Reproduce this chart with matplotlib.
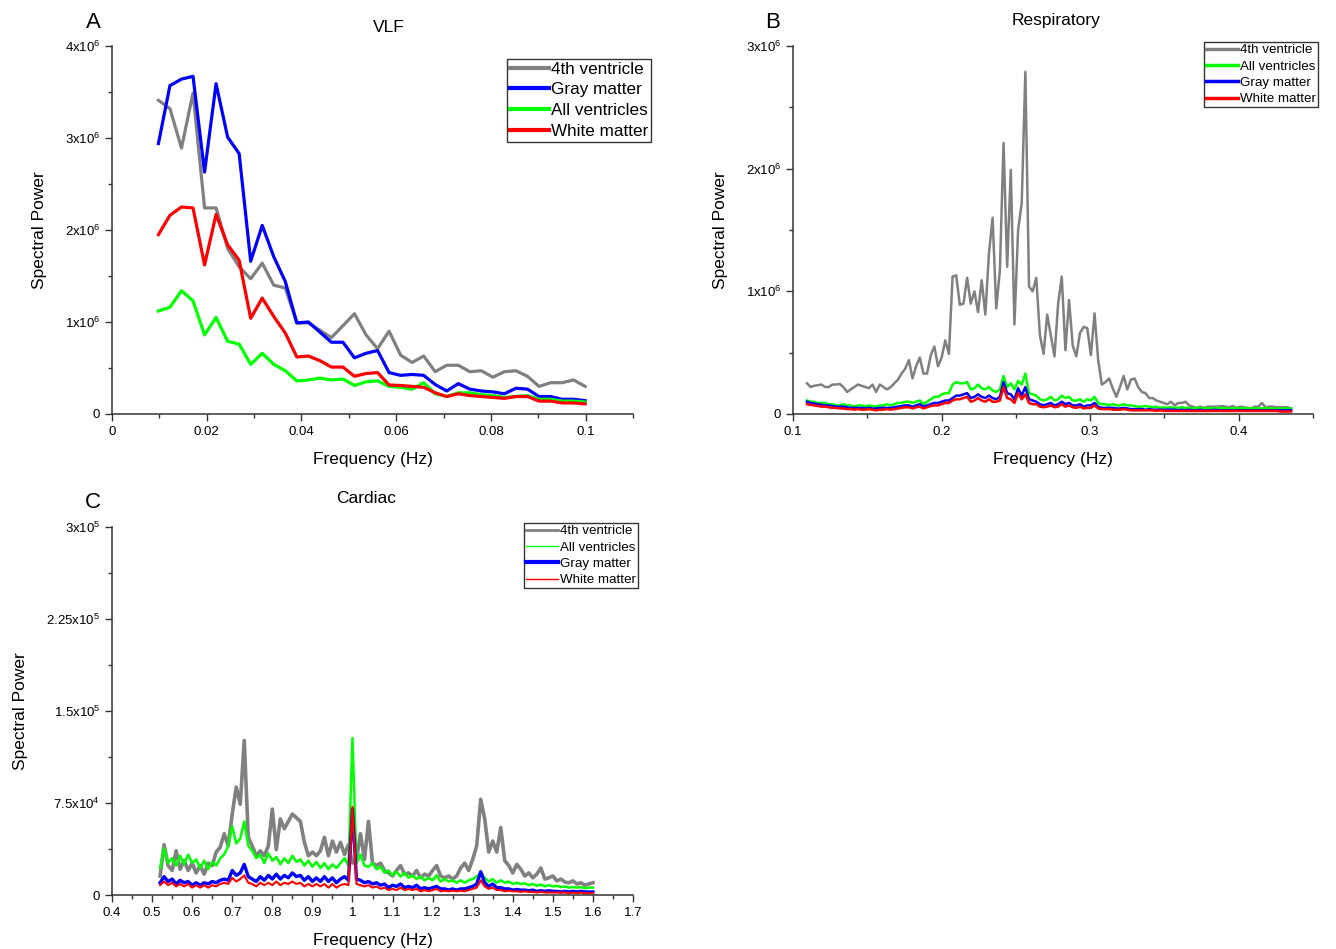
import numpy as np
import matplotlib
matplotlib.use("Agg")
import matplotlib.pyplot as plt
from matplotlib.ticker import MultipleLocator, FuncFormatter

plt.rcParams['font.family'] = ['Liberation Sans', 'DejaVu Sans']
plt.rcParams['mathtext.fontset'] = 'custom'
plt.rcParams['mathtext.rm'] = 'Liberation Sans'
plt.rcParams['mathtext.it'] = 'Liberation Sans:italic'

# ---------------- data ----------------
# A: VLF  (power in units of 1e6)
freq_a = np.linspace(0.0098, 0.0999, 38)
vlf_4th = [3.41, 3.32, 2.89, 3.49, 2.24, 2.24, 1.80, 1.60, 1.47, 1.64,
           1.40, 1.37, 0.99, 0.99, 0.91, 0.83, 0.96, 1.09, 0.86, 0.71,
           0.90, 0.64, 0.56, 0.63, 0.46, 0.53, 0.53, 0.46, 0.47, 0.40,
           0.46, 0.47, 0.41, 0.30, 0.34, 0.34, 0.37, 0.30]
vlf_gray = [2.94, 3.57, 3.64, 3.67, 2.63, 3.59, 3.01, 2.83, 1.66, 2.05,
            1.71, 1.44, 0.99, 1.00, 0.89, 0.78, 0.78, 0.61, 0.66, 0.69,
            0.45, 0.42, 0.43, 0.42, 0.32, 0.25, 0.33, 0.27, 0.25, 0.24,
            0.22, 0.28, 0.27, 0.19, 0.19, 0.16, 0.16, 0.145]
vlf_all = [1.12, 1.16, 1.34, 1.23, 0.86, 1.05, 0.79, 0.76, 0.54, 0.66,
           0.54, 0.47, 0.36, 0.37, 0.39, 0.37, 0.38, 0.31, 0.35, 0.36,
           0.30, 0.29, 0.27, 0.34, 0.22, 0.19, 0.23, 0.23, 0.21, 0.20,
           0.18, 0.19, 0.20, 0.16, 0.16, 0.14, 0.14, 0.13]
vlf_white = [1.95, 2.16, 2.25, 2.24, 1.62, 2.17, 1.84, 1.67, 1.04, 1.26,
             1.06, 0.88, 0.62, 0.63, 0.58, 0.51, 0.51, 0.41, 0.44, 0.45,
             0.315, 0.31, 0.30, 0.29, 0.23, 0.19, 0.22, 0.20, 0.19, 0.18,
             0.17, 0.19, 0.19, 0.14, 0.14, 0.12, 0.12, 0.11]

# B: Respiratory (power in units of 1e6)
freq_b = 0.1094 + 0.00245 * np.arange(134)
resp_4th = [0.25, 0.22, 0.23, 0.235, 0.24, 0.22, 0.22, 0.24, 0.24, 0.245,
            0.22, 0.18, 0.20, 0.22, 0.24, 0.23, 0.22, 0.21, 0.24, 0.18,
            0.24, 0.22, 0.20, 0.22, 0.25, 0.28, 0.33, 0.37, 0.44, 0.29,
            0.39, 0.46, 0.33, 0.33, 0.48, 0.55, 0.39, 0.46, 0.60, 0.49,
            1.12, 1.13, 0.89, 0.90, 1.11, 0.90, 1.00, 0.83, 1.09, 0.81,
            1.31, 1.60, 0.86, 1.17, 2.21, 1.20, 1.99, 0.73, 1.50, 1.72,
            2.79, 1.04, 1.00, 1.11, 0.64, 0.49, 0.81, 0.64, 0.47, 0.90,
            1.12, 0.52, 0.93, 0.56, 0.47, 0.66, 0.71, 0.70, 0.48, 0.82,
            0.44, 0.24, 0.26, 0.29, 0.21, 0.14, 0.22, 0.31, 0.20, 0.28,
            0.29, 0.22, 0.18, 0.17, 0.13, 0.13, 0.11, 0.10, 0.09, 0.08,
            0.10, 0.07, 0.09, 0.09, 0.10, 0.07, 0.06, 0.05, 0.06, 0.05,
            0.06, 0.06, 0.06, 0.06, 0.065, 0.06, 0.055, 0.065, 0.05, 0.06,
            0.055, 0.05, 0.045, 0.06, 0.06, 0.09, 0.055, 0.06, 0.06, 0.055,
            0.055, 0.055, 0.055, 0.045]
resp_all = [0.11, 0.10, 0.10, 0.09, 0.09, 0.09, 0.08, 0.08, 0.07, 0.07,
            0.08, 0.07, 0.07, 0.06, 0.07, 0.07, 0.06, 0.07, 0.065, 0.06,
            0.07, 0.07, 0.08, 0.07, 0.08, 0.09, 0.09, 0.10, 0.10, 0.09,
            0.10, 0.11, 0.08, 0.10, 0.12, 0.14, 0.14, 0.16, 0.17, 0.17,
            0.24, 0.26, 0.25, 0.25, 0.26, 0.20, 0.21, 0.24, 0.21, 0.20,
            0.22, 0.19, 0.18, 0.20, 0.31, 0.22, 0.25, 0.20, 0.27, 0.24,
            0.33, 0.17, 0.16, 0.15, 0.12, 0.11, 0.12, 0.14, 0.11, 0.12,
            0.15, 0.13, 0.14, 0.11, 0.11, 0.12, 0.10, 0.12, 0.11, 0.14,
            0.09, 0.08, 0.08, 0.07, 0.08, 0.07, 0.07, 0.08, 0.07, 0.07,
            0.065, 0.06, 0.06, 0.065, 0.06, 0.055, 0.06, 0.05, 0.055, 0.05,
            0.055, 0.05, 0.05, 0.055, 0.05, 0.05, 0.045, 0.05, 0.05, 0.045,
            0.05, 0.045, 0.05, 0.05, 0.045, 0.05, 0.045, 0.045, 0.05, 0.045,
            0.05, 0.045, 0.045, 0.05, 0.045, 0.045, 0.05, 0.045, 0.045, 0.045,
            0.045, 0.045, 0.045, 0.045]
resp_gray = [0.10, 0.09, 0.085, 0.08, 0.075, 0.07, 0.07, 0.065, 0.06, 0.06,
             0.06, 0.055, 0.05, 0.05, 0.05, 0.05, 0.045, 0.05, 0.045, 0.045,
             0.05, 0.05, 0.05, 0.05, 0.055, 0.06, 0.065, 0.07, 0.07, 0.06,
             0.07, 0.08, 0.06, 0.07, 0.08, 0.09, 0.09, 0.10, 0.11, 0.11,
             0.13, 0.15, 0.15, 0.16, 0.17, 0.13, 0.14, 0.16, 0.14, 0.13,
             0.15, 0.13, 0.12, 0.14, 0.26, 0.17, 0.16, 0.12, 0.21, 0.15,
             0.22, 0.12, 0.11, 0.10, 0.08, 0.07, 0.08, 0.09, 0.07, 0.08,
             0.10, 0.08, 0.09, 0.07, 0.07, 0.08, 0.06, 0.07, 0.07, 0.09,
             0.06, 0.05, 0.05, 0.05, 0.05, 0.045, 0.045, 0.05, 0.045, 0.04,
             0.04, 0.04, 0.04, 0.035, 0.04, 0.035, 0.035, 0.035, 0.035, 0.035,
             0.035, 0.035, 0.03, 0.035, 0.03, 0.035, 0.03, 0.03, 0.035, 0.03,
             0.03, 0.03, 0.035, 0.03, 0.03, 0.03, 0.03, 0.03, 0.03, 0.03,
             0.03, 0.03, 0.03, 0.03, 0.03, 0.03, 0.03, 0.03, 0.03, 0.03,
             0.03, 0.03, 0.03, 0.03]
resp_white = [0.08, 0.075, 0.07, 0.065, 0.06, 0.06, 0.055, 0.05, 0.05, 0.045,
              0.045, 0.04, 0.04, 0.035, 0.04, 0.035, 0.035, 0.04, 0.035, 0.03,
              0.035, 0.035, 0.04, 0.035, 0.04, 0.045, 0.05, 0.055, 0.055, 0.045,
              0.055, 0.06, 0.045, 0.055, 0.065, 0.07, 0.07, 0.08, 0.09, 0.09,
              0.11, 0.12, 0.12, 0.13, 0.14, 0.10, 0.11, 0.13, 0.11, 0.10,
              0.12, 0.10, 0.10, 0.11, 0.22, 0.13, 0.12, 0.09, 0.17, 0.12,
              0.16, 0.09, 0.08, 0.08, 0.06, 0.055, 0.06, 0.07, 0.055, 0.06,
              0.08, 0.06, 0.07, 0.055, 0.05, 0.06, 0.045, 0.05, 0.05, 0.07,
              0.045, 0.04, 0.04, 0.04, 0.035, 0.035, 0.035, 0.04, 0.035, 0.03,
              0.03, 0.03, 0.03, 0.03, 0.03, 0.03, 0.025, 0.03, 0.025, 0.025,
              0.025, 0.025, 0.025, 0.025, 0.025, 0.025, 0.025, 0.025, 0.025, 0.025,
              0.025, 0.025, 0.025, 0.025, 0.025, 0.025, 0.025, 0.025, 0.025, 0.025,
              0.025, 0.025, 0.025, 0.025, 0.025, 0.025, 0.025, 0.025, 0.025, 0.025,
              0.02, 0.02, 0.02, 0.02]

# C: Cardiac (power in units of 1e4)
freq_c = np.round(np.arange(0.52, 1.605, 0.01), 2)
card_4th = [1.55, 4.1, 2.4, 2.0, 3.6, 2.1, 2.8, 2.0, 2.6, 1.8,
            2.4, 1.7, 2.6, 2.4, 3.5, 3.9, 5.0, 4.0, 6.6, 8.8,
            7.4, 12.6, 4.7, 4.0, 3.2, 3.6, 3.2, 4.0, 7.0, 3.7,
            6.2, 5.4, 6.0, 6.6, 6.3, 6.0, 4.3, 3.2, 3.5, 3.2,
            3.6, 4.7, 3.2, 4.4, 3.5, 4.3, 3.3, 4.1, 2.6,
            2.9, 5.0, 2.9, 6.0, 2.6, 2.4, 2.6, 2.0, 1.8, 1.55,
            2.0, 2.4, 1.7, 1.8, 1.55, 2.0, 1.4, 1.7, 1.55, 2.0,
            2.4, 1.55, 1.4, 1.55, 1.3, 1.55, 2.2, 2.6, 2.0, 2.9,
            4.0, 7.8, 6.2, 3.5, 4.4, 3.5, 5.5, 2.8, 2.4, 1.8,
            2.5, 2.1, 1.55, 1.8, 1.4, 1.7, 2.2, 1.3, 1.4, 1.55,
            1.15, 1.3, 1.05, 1.0, 1.15, 0.9, 1.0, 0.8, 0.9, 1.0]
card_all = [2.2, 3.8, 2.6, 3.0, 2.4, 3.2, 2.5, 3.3, 2.6, 2.9,
            2.2, 2.8, 2.1, 2.7, 2.4, 3.0, 3.3, 4.0, 5.6, 4.2,
            4.6, 6.0, 4.0, 3.6, 3.0, 3.3, 2.6, 3.4, 2.8, 3.1,
            2.5, 3.0, 2.6, 3.2, 2.7, 2.9, 2.4, 2.8, 2.3, 2.7,
            2.2, 2.6, 2.1, 2.5, 2.2, 2.6, 3.0, 2.4, 12.8,
            2.6, 3.3, 2.4, 2.3, 2.6, 2.1, 2.3, 1.8, 2.0, 1.6,
            1.9, 1.5, 1.8, 1.4, 1.6, 1.3, 1.5, 1.2, 1.4, 1.2,
            1.6, 1.1, 1.3, 1.1, 1.2, 1.0, 1.2, 1.0, 1.2, 1.3,
            1.5, 1.8, 1.4, 1.1, 1.3, 1.0, 1.2, 1.0, 1.1, 0.9,
            1.0, 0.9, 0.95, 0.8, 0.9, 0.75, 0.85, 0.7, 0.8, 0.7,
            0.75, 0.65, 0.7, 0.6, 0.65, 0.6, 0.65, 0.55, 0.6, 0.6]
card_gray = [1.0, 1.5, 1.1, 1.3, 0.9, 1.2, 1.0, 1.1, 0.8, 1.0,
             0.8, 1.0, 0.9, 1.1, 1.0, 1.2, 1.3, 1.2, 2.0, 1.6,
             1.8, 2.5, 1.5, 1.3, 1.1, 1.5, 1.2, 1.6, 1.3, 1.7,
             1.3, 1.6, 1.4, 1.8, 1.5, 1.6, 1.2, 1.5, 1.1, 1.4,
             1.1, 1.5, 1.1, 1.4, 1.0, 1.3, 1.5, 1.2, 7.0,
             1.3, 1.2, 1.0, 1.1, 0.9, 1.0, 0.8, 0.9, 0.6, 0.8,
             0.7, 0.9, 0.6, 0.7, 0.6, 0.8, 0.5, 0.6, 0.5, 0.6,
             0.7, 0.5, 0.5, 0.4, 0.5, 0.4, 0.5, 0.5, 0.6, 0.7,
             0.9, 1.9, 1.0, 0.7, 0.9, 0.6, 0.6, 0.5, 0.5, 0.4,
             0.45, 0.4, 0.4, 0.35, 0.4, 0.3, 0.35, 0.3, 0.35, 0.3,
             0.3, 0.25, 0.3, 0.25, 0.3, 0.25, 0.3, 0.25, 0.25, 0.25]
card_white = [0.8, 1.1, 0.8, 1.0, 0.7, 0.9, 0.7, 0.9, 0.6, 0.8,
              0.6, 0.8, 0.6, 0.8, 0.7, 0.9, 1.0, 0.9, 1.4, 1.1,
              1.3, 1.6, 1.0, 0.9, 0.7, 1.0, 0.8, 1.0, 0.8, 1.1,
              0.8, 1.0, 0.9, 1.1, 0.9, 1.0, 0.7, 0.9, 0.7, 0.9,
              0.7, 0.9, 0.6, 0.9, 0.6, 0.8, 0.9, 0.8, 7.2,
              0.9, 0.8, 0.7, 0.8, 0.6, 0.7, 0.5, 0.6, 0.4, 0.5,
              0.4, 0.6, 0.4, 0.5, 0.4, 0.5, 0.3, 0.4, 0.3, 0.4,
              0.5, 0.3, 0.35, 0.3, 0.35, 0.3, 0.35, 0.3, 0.4, 0.5,
              0.6, 1.2, 0.7, 0.5, 0.6, 0.4, 0.4, 0.3, 0.35, 0.3,
              0.3, 0.25, 0.3, 0.25, 0.25, 0.2, 0.25, 0.2, 0.2, 0.2,
              0.2, 0.2, 0.2, 0.15, 0.2, 0.15, 0.2, 0.15, 0.15, 0.15]

c_gray = '#808080'
c_blue = '#0000ff'
c_green = '#00ff00'
c_red = '#ff0000'


def sci_label(v, pos):
    if abs(v) < 1e-6:
        return '0'
    if v < 0:
        return ''
    e = int(np.floor(np.log10(v) + 1e-9))
    m = v / 10 ** e
    return '%gx10$^{%d}$' % (round(m, 3), e)


def plain_label(v, pos):
    if abs(v) < 1e-9:
        return '0'
    return '%g' % round(v, 3)


def style_axes(ax):
    for s in ['top', 'right']:
        ax.spines[s].set_visible(False)
    for s in ['left', 'bottom']:
        ax.spines[s].set_linewidth(1.1)
        ax.spines[s].set_color('#333333')
    ax.tick_params(which='major', direction='out', length=5, width=1, labelsize=9.5, colors='#333333')
    ax.tick_params(which='minor', direction='out', length=3, width=1, colors='#333333')
    ax.tick_params(labelcolor='black')
    ax.yaxis.set_major_formatter(FuncFormatter(sci_label))
    ax.xaxis.set_major_formatter(FuncFormatter(plain_label))
    ax.set_xlabel('Frequency (Hz)', fontsize=12.5, labelpad=10)
    ax.set_ylabel('Spectral Power', fontsize=12.5, labelpad=13)


W, H = 1336, 949
fig = plt.figure(figsize=(W / 100, H / 100), dpi=100)


def fx(px):
    return px / W


def fy(py):
    return 1 - py / H


leg_kw = dict(loc='upper left', frameon=True, fancybox=False, framealpha=1,
              edgecolor='#333333', borderpad=0.15,
              handletextpad=0.15, borderaxespad=0, bbox_transform=fig.transFigure)

# ---------- A ----------
axA = fig.add_axes([fx(112), fy(414), fx(633 - 112), (414 - 46) / H])
axA.plot(freq_a, np.array(vlf_4th) * 1e6, color=c_gray, lw=2.3, label='4th ventricle')
axA.plot(freq_a, np.array(vlf_gray) * 1e6, color=c_blue, lw=2.3, label='Gray matter')
axA.plot(freq_a, np.array(vlf_all) * 1e6, color=c_green, lw=2.3, label='All ventricles')
axA.plot(freq_a, np.array(vlf_white) * 1e6, color=c_red, lw=2.3, label='White matter')
axA.set_xlim(0, 0.11)
axA.set_ylim(0, 4e6)
axA.xaxis.set_major_locator(MultipleLocator(0.02))
axA.xaxis.set_minor_locator(MultipleLocator(0.01))
axA.yaxis.set_major_locator(MultipleLocator(1e6))
axA.yaxis.set_minor_locator(MultipleLocator(5e5))
style_axes(axA)
legA = axA.legend(bbox_to_anchor=(fx(507), fy(59)), fontsize=12.3, handlelength=2.3,
                  labelspacing=0.34, **leg_kw)
for l in legA.get_lines():
    l.set_linewidth(3)

# ---------- B ----------
axB = fig.add_axes([fx(793), fy(414), fx(1313 - 793), (414 - 46) / H])
axB.plot(freq_b, np.array(resp_4th) * 1e6, color=c_gray, lw=1.8, label='4th ventricle')
axB.plot(freq_b, np.array(resp_all) * 1e6, color=c_green, lw=1.8, label='All ventricles')
axB.plot(freq_b, np.array(resp_gray) * 1e6, color=c_blue, lw=1.8, label='Gray matter')
axB.plot(freq_b, np.array(resp_white) * 1e6, color=c_red, lw=1.8, label='White matter')
axB.set_xlim(0.1, 0.45)
axB.set_ylim(0, 3e6)
axB.xaxis.set_major_locator(MultipleLocator(0.1))
axB.xaxis.set_minor_locator(MultipleLocator(0.05))
axB.yaxis.set_major_locator(MultipleLocator(1e6))
axB.yaxis.set_minor_locator(MultipleLocator(5e5))
style_axes(axB)
legB = axB.legend(bbox_to_anchor=(fx(1204), fy(42)), fontsize=9.6, handlelength=2.4,
                  labelspacing=0.3, **leg_kw)
for l in legB.get_lines():
    l.set_linewidth(2.5)

# ---------- C ----------
axC = fig.add_axes([fx(112), fy(895), fx(633 - 112), (895 - 527) / H])
axC.plot(freq_c, np.array(card_4th) * 1e4, color=c_gray, lw=2.6, label='4th ventricle')
axC.plot(freq_c, np.array(card_all) * 1e4, color=c_green, lw=1.8, label='All ventricles')
axC.plot(freq_c, np.array(card_gray) * 1e4, color=c_blue, lw=2.4, label='Gray matter')
axC.plot(freq_c, np.array(card_white) * 1e4, color=c_red, lw=1.5, label='White matter')
axC.set_xlim(0.4, 1.7)
axC.set_ylim(0, 3e5)
axC.xaxis.set_major_locator(MultipleLocator(0.1))
axC.xaxis.set_minor_locator(MultipleLocator(0.05))
axC.yaxis.set_major_locator(MultipleLocator(7.5e4))
axC.yaxis.set_minor_locator(MultipleLocator(3.75e4))
style_axes(axC)
legC = axC.legend(bbox_to_anchor=(fx(524), fy(523)), fontsize=9.6, handlelength=2.4,
                  labelspacing=0.3, **leg_kw)
lw_leg = [2.0, 1.0, 3.0, 1.0]
for l, w in zip(legC.get_lines(), lw_leg):
    l.set_linewidth(w)

# titles and panel letters
fig.text(fx(389), fy(28), 'VLF', ha='center', va='center', fontsize=12.5)
fig.text(fx(1056), fy(20), 'Respiratory', ha='center', va='center', fontsize=12.5)
fig.text(fx(366), fy(498), 'Cardiac', ha='center', va='center', fontsize=12.5)
fig.text(fx(93), fy(22), 'A', ha='center', va='center', fontsize=16)
fig.text(fx(773), fy(22), 'B', ha='center', va='center', fontsize=16)
fig.text(fx(93), fy(503), 'C', ha='center', va='center', fontsize=16)

fig.savefig('out.png', dpi=100, facecolor='white')
